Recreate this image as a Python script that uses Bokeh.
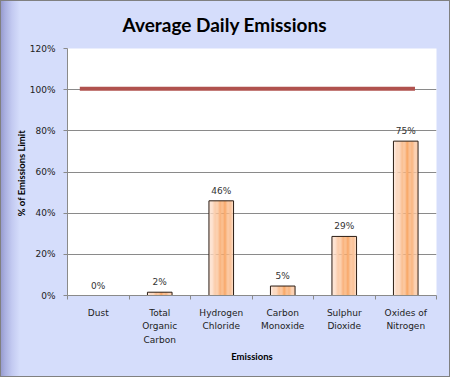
from bokeh.plotting import figure
from bokeh.models import FixedTicker, PrintfTickFormatter, Range1d
from bokeh.core.properties import value
from bokeh.embed import file_html
from bokeh.resources import INLINE

# ---- data ----
categories = ["Dust", "Total\nOrganic\nCarbon", "Hydrogen\nChloride",
              "Carbon\nMonoxide", "Sulphur\nDioxide", "Oxides of\nNitrogen"]
emissions = [0, 1.6, 46, 4.6, 28.7, 75]          # % of emissions limit
limit_value = 100.5
limit_x = [0.2, 5.65]                            # extent of the limit line (category units)
y_ticks = [0, 20, 40, 60, 80, 100, 120]

# ---- styling ----
BG = "#d5ddfb"
GRID = "#8a8a8a"
LIGHT = (253, 232, 221)
DARK = (249, 168, 104)
ML, MR, MT, MB = 67, 14, 48, 82

p = figure(width=450, height=377, output_backend="svg", toolbar_location=None,
           x_range=Range1d(0, len(categories)), y_range=Range1d(0, 120),
           min_border_left=ML, min_border_right=MR, min_border_top=MT, min_border_bottom=MB,
           background_fill_color="white", border_fill_color=BG, border_fill_alpha=0,
           styles={"background": "linear-gradient(to right, #9397cb 0px, #aab0e0 5px, "
                                 "#c3caf1 12px, #d5ddfb 20px, #d5ddfb 100%)",
                   "outline": "1px solid #808080", "outline-offset": "-1px"})
p.outline_line_color = None

p.title.text = "Average Daily Emissions"
p.title.text_font = "Lato"
p.title.text_font_size = "19px"
p.title.text_font_style = "bold"
p.title.text_color = "#000000"
p.title.align = "left"
p.title.vertical_align = "top"
p.title.offset = 55
p.title.standoff = 22

# bars with horizontal gradient built from narrow strips
bar_w = 0.4
n_strips = 20
centers = [i + 0.5 for i in range(len(categories))]
for k in range(n_strips):
    t = (k + 0.5) / n_strips
    if t < 0.6:
        g = t / 0.6
    else:
        g = 1 - 0.65 * (t - 0.6) / 0.4
    col = tuple(int(LIGHT[j] + (DARK[j] - LIGHT[j]) * g) for j in range(3))
    xs = [c - bar_w / 2 + (k + 0.5) * bar_w / n_strips for c in centers]
    p.vbar(x=xs, top=emissions, bottom=0, width=bar_w / n_strips * 1.05,
           fill_color="#%02x%02x%02x" % col, line_color=None)
p.vbar(x=centers, top=emissions, bottom=0, width=bar_w,
       fill_color=None, line_color="#2b1d14", line_width=1)

# limit line
p.line(x=limit_x, y=[limit_value, limit_value], line_color="#b0524e", line_width=4)

# data labels
labels = ["%d%%" % int(v + 0.5) for v in emissions]
p.text(x=centers, y=emissions, text=labels, text_align="center", text_baseline="bottom",
       y_offset=-5, text_font=value("DejaVu Sans"), text_font_size="9px", text_color="#333333")

# axes
p.xgrid.grid_line_color = None
p.ygrid.grid_line_color = GRID
p.ygrid.ticker = FixedTicker(ticks=y_ticks)

xa = p.xaxis[0]
xa.ticker = FixedTicker(ticks=centers, minor_ticks=list(range(len(categories) + 1)))
xa.major_label_overrides = {c: lab for c, lab in zip(centers, categories)}
xa.major_tick_line_color = None
xa.major_tick_out = 4
xa.major_tick_in = 0
xa.minor_tick_out = 4
xa.minor_tick_in = 0
xa.minor_tick_line_color = GRID
xa.axis_line_color = GRID
xa.major_label_standoff = 8
xa.major_label_text_font = "DejaVu Sans"
xa.major_label_text_font_size = "9px"
xa.major_label_text_color = "#222222"
xa.major_label_text_line_height = 1.35
xa.axis_label = "Emissions"
xa.axis_label_text_font = "Lato"
xa.axis_label_text_font_size = "9.5px"
xa.axis_label_text_font_style = "bold"
xa.axis_label_text_color = "#000000"
xa.axis_label_standoff = 3

ya = p.yaxis[0]
ya.ticker = FixedTicker(ticks=y_ticks, minor_ticks=[])
ya.formatter = PrintfTickFormatter(format="%d%%")
ya.major_tick_out = 4
ya.major_tick_in = 0
ya.major_tick_line_color = GRID
ya.axis_line_color = GRID
ya.major_label_standoff = 8
ya.major_label_text_font = "DejaVu Sans"
ya.major_label_text_font_size = "9px"
ya.major_label_text_color = "#222222"
ya.axis_label = "% of Emissions  Limit"
ya.axis_label_text_font = "Lato"
ya.axis_label_text_font_size = "9.5px"
ya.axis_label_text_font_style = "bold"
ya.axis_label_text_color = "#000000"
ya.axis_label_standoff = 0

open("out.html", "w").write(file_html(p, INLINE))
